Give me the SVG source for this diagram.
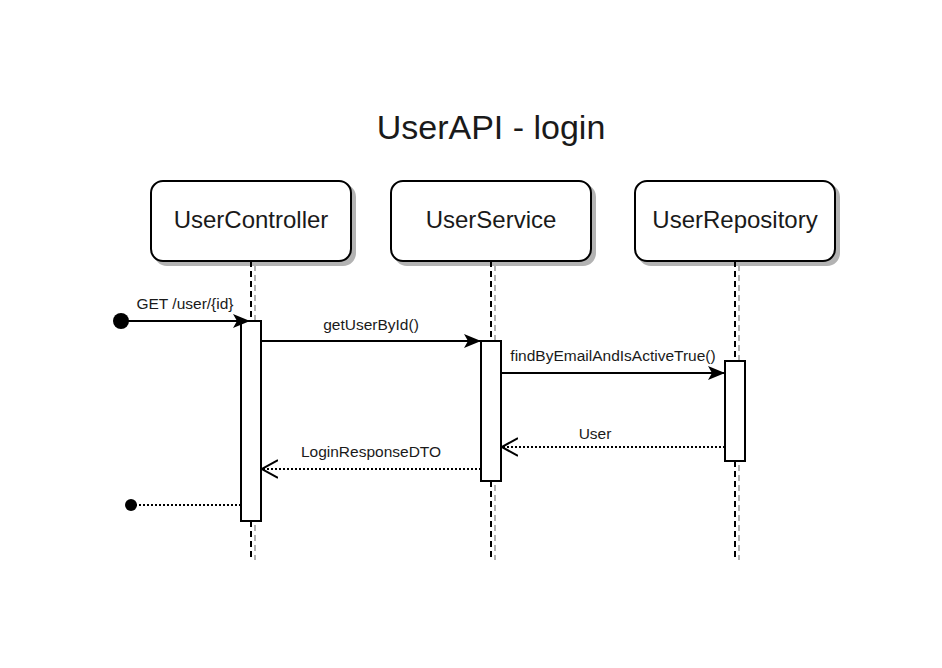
<svg xmlns="http://www.w3.org/2000/svg" width="942" height="668" viewBox="0 0 942 668">
<style>
text{font-family:"Liberation Sans",Arial,sans-serif;fill:#1a1a1a}
.box{fill:#fff;stroke:#000;stroke-width:2}
.sh{fill:#b3b3b3;stroke:#b3b3b3;stroke-width:2}
.life{stroke:#000;stroke-width:2;stroke-dasharray:6 4;fill:none}
.lifesh{stroke:#b3b3b3;stroke-width:2;stroke-dasharray:6 4;fill:none}
.act{fill:#fff;stroke:#000;stroke-width:2}
.msg{stroke:#000;stroke-width:2;fill:none}
.ret{stroke:#000;stroke-width:2;stroke-dasharray:2 2;fill:none}
.lbl{font-size:15.5px;text-anchor:middle}
.name{font-size:24px;text-anchor:middle}
</style>
<defs>
<marker id="filled" viewBox="0 0 17 14" refX="17" refY="7" markerWidth="17" markerHeight="14" markerUnits="userSpaceOnUse" orient="auto">
<path d="M0,0 L17,7 L0,14 L4,7 Z" fill="#000"/>
</marker>
<marker id="open" viewBox="0 0 16 20" refX="16" refY="10" markerWidth="16" markerHeight="20" markerUnits="userSpaceOnUse" orient="auto">
<path d="M0,1 L16,10 L0,19" fill="none" stroke="#000" stroke-width="2"/>
</marker>
</defs>
<rect width="942" height="668" fill="#fff"/>
<text x="491" y="139" font-size="34" text-anchor="middle">UserAPI - login</text>

<g id="userController">
<rect class="sh" x="155" y="185" width="200" height="80" rx="12"/>
<line class="lifesh" x1="255" y1="265" x2="255" y2="560"/>
<rect class="box" x="151" y="181" width="200" height="80" rx="12"/>
<line class="life" x1="251" y1="261" x2="251" y2="560"/>
<text class="name" x="251" y="228">UserController</text>
</g>
<g id="userService">
<rect class="sh" x="395" y="185" width="200" height="80" rx="12"/>
<line class="lifesh" x1="495" y1="265" x2="495" y2="560"/>
<rect class="box" x="391" y="181" width="200" height="80" rx="12"/>
<line class="life" x1="491" y1="261" x2="491" y2="560"/>
<text class="name" x="491" y="228">UserService</text>
</g>
<g id="userRepository">
<rect class="sh" x="639" y="185" width="200" height="80" rx="12"/>
<line class="lifesh" x1="739" y1="265" x2="739" y2="560"/>
<rect class="box" x="635" y="181" width="200" height="80" rx="12"/>
<line class="life" x1="735" y1="261" x2="735" y2="560"/>
<text class="name" x="735" y="228">UserRepository</text>
</g>

<g id="act-controller"><rect class="act" x="241" y="321" width="20" height="200"/></g>
<g id="act-service"><rect class="act" x="481" y="341" width="20" height="140"/></g>
<g id="act-repository"><rect class="act" x="725" y="361" width="20" height="100"/></g>

<g id="connectors">
<circle cx="121" cy="321" r="8" fill="#000"/>
<line class="msg" x1="121" y1="321" x2="250" y2="321" marker-end="url(#filled)"/>
<text class="lbl" x="185" y="309">GET /user/{id}</text>

<line class="msg" x1="261" y1="341" x2="481" y2="341" marker-end="url(#filled)"/>
<text class="lbl" x="371" y="330">getUserById()</text>

<line class="msg" x1="501" y1="373" x2="725" y2="373" marker-end="url(#filled)"/>
<text class="lbl" x="613" y="361">findByEmailAndIsActiveTrue()</text>

<line class="ret" x1="725" y1="447" x2="502" y2="447" marker-end="url(#open)"/>
<text class="lbl" x="595" y="439">User</text>

<line class="ret" x1="481" y1="469" x2="262" y2="469" marker-end="url(#open)"/>
<text class="lbl" x="371" y="457">LoginResponseDTO</text>

<circle cx="131" cy="505" r="6" fill="#000"/>
<line class="ret" x1="131" y1="505" x2="241" y2="505"/>
</g>
</svg>
